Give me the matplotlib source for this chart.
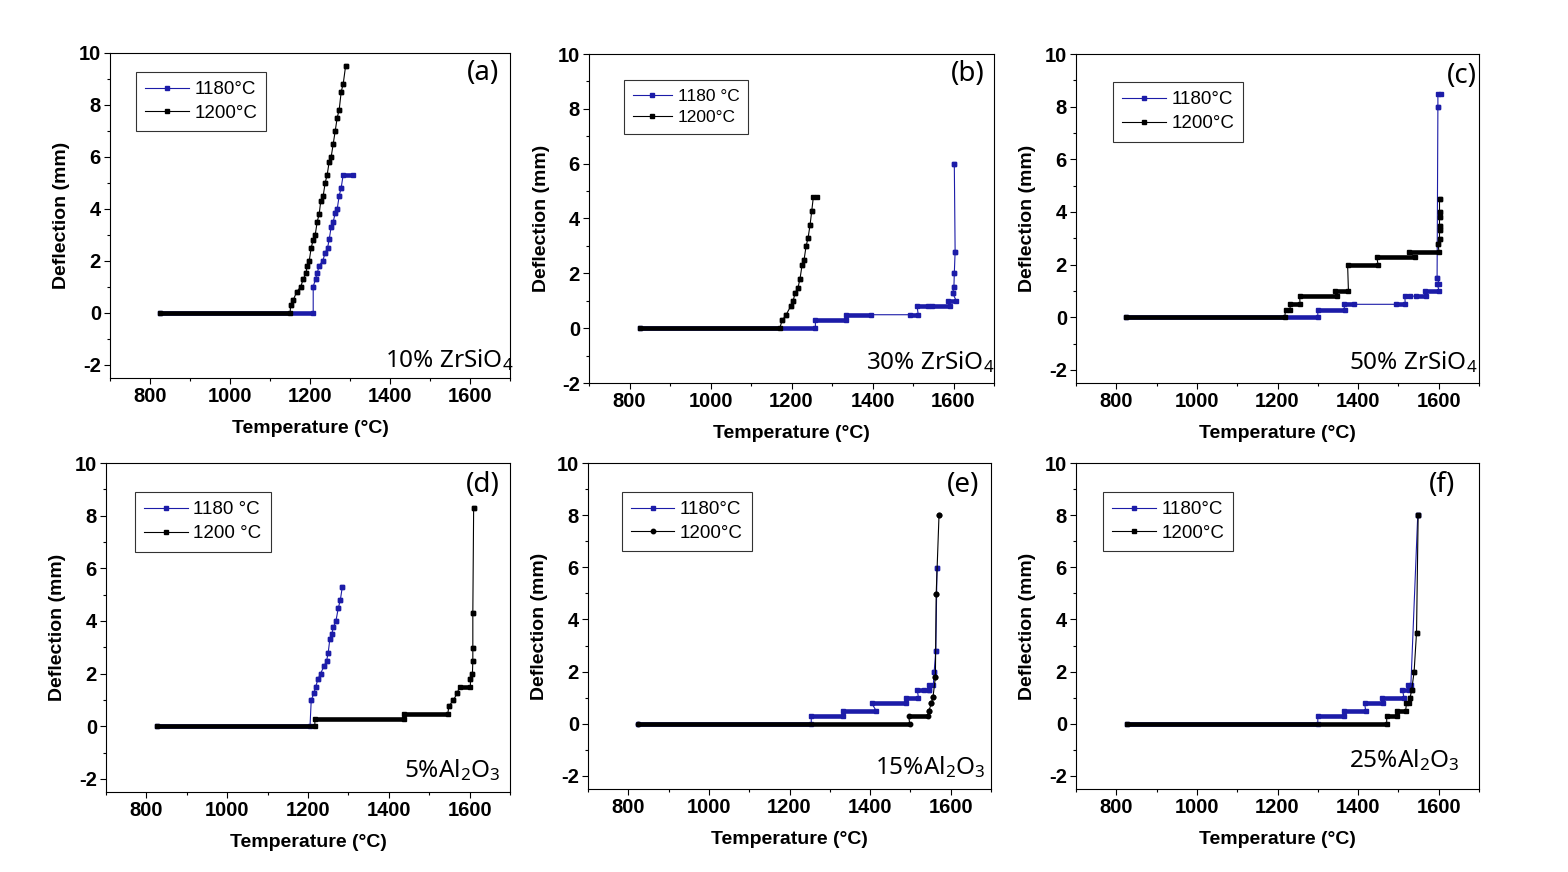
import matplotlib
matplotlib.use('Agg')
import matplotlib.pyplot as plt
from matplotlib.lines import Line2D
from matplotlib.ticker import MultipleLocator

plt.rcParams['font.family'] = ['Liberation Sans', 'DejaVu Sans']
plt.rcParams['mathtext.fontset'] = 'custom'
plt.rcParams['mathtext.rm'] = 'Noto Sans'
plt.rcParams['mathtext.default'] = 'regular'
plt.rcParams['axes.unicode_minus'] = False

# Each series is a list of runs: start temperature, end temperature, deflection.
# A run with start == end is a single data point.

# (a) 10% ZrSiO4
a_blue_t0 = [825, 1208, 1214, 1218, 1223, 1232, 1238, 1244, 1248, 1253, 1258, 1263, 1268, 1273, 1278, 1283]
a_blue_t1 = [1208, 1208, 1214, 1218, 1223, 1232, 1238, 1244, 1248, 1253, 1258, 1263, 1268, 1273, 1278, 1308]
a_blue_d = [0, 1.01, 1.32, 1.53, 1.82, 2.01, 2.32, 2.51, 2.83, 3.32, 3.51, 3.83, 4.0, 4.51, 4.82, 5.32]
a_black_t0 = [825, 1152, 1158, 1167, 1177, 1183, 1190, 1193, 1198, 1203, 1208, 1213, 1218, 1223,
              1227, 1233, 1238, 1243, 1248, 1253, 1258, 1263, 1268, 1273, 1278, 1283, 1289]
a_black_t1 = [1150, 1152, 1158, 1167, 1177, 1183, 1190, 1193, 1198, 1203, 1208, 1213, 1218, 1223,
              1227, 1233, 1238, 1243, 1248, 1253, 1258, 1263, 1268, 1273, 1278, 1283, 1289]
a_black_d = [0, 0.31, 0.5, 0.82, 1.01, 1.31, 1.53, 1.82, 2.0, 2.51, 2.81, 3.0, 3.51, 3.81,
             4.32, 4.51, 5.01, 5.32, 5.82, 6.01, 6.5, 7.0, 7.51, 7.82, 8.51, 8.81, 9.5]

# (b) 30% ZrSiO4
b_blue_t0 = [825, 1259, 1335, 1493, 1510, 1547, 1586, 1598, 1601, 1602, 1604, 1602]
b_blue_t1 = [1259, 1335, 1396, 1513, 1537, 1592, 1607, 1598, 1601, 1602, 1604, 1602]
b_blue_d = [0, 0.29, 0.49, 0.49, 0.8, 0.8, 0.99, 1.28, 1.49, 2.0, 2.79, 5.99]
b_black_t0 = [825, 1177, 1186, 1198, 1204, 1209, 1216, 1221, 1226, 1231, 1236, 1241, 1246, 1250, 1254]
b_black_t1 = [1171, 1177, 1186, 1198, 1204, 1209, 1216, 1221, 1226, 1231, 1236, 1241, 1246, 1250, 1263]
b_black_d = [0, 0.29, 0.47, 0.8, 0.99, 1.29, 1.48, 1.8, 2.29, 2.49, 2.99, 3.3, 3.78, 4.28, 4.79]

# (c) 50% ZrSiO4
c_blue_t0 = [824, 1300, 1364, 1493, 1516, 1544, 1565, 1596, 1596, 1598, 1598]
c_blue_t1 = [1300, 1367, 1390, 1517, 1530, 1569, 1601, 1601, 1596, 1598, 1605]
c_blue_d = [0, 0.29, 0.49, 0.49, 0.8, 0.8, 1.0, 1.28, 1.49, 8.0, 8.48]
c_black_t0 = [824, 1220, 1230, 1255, 1343, 1374, 1446, 1527, 1598, 1602, 1602, 1602, 1602, 1602, 1602]
c_black_t1 = [1218, 1232, 1256, 1347, 1376, 1450, 1540, 1601, 1598, 1602, 1602, 1602, 1602, 1602, 1602]
c_black_d = [0, 0.29, 0.49, 0.8, 1.0, 1.98, 2.29, 2.48, 2.8, 2.99, 3.31, 3.47, 3.79, 4.0, 4.49]

# (d) 5% Al2O3
d_blue_t0 = [826, 1208, 1215, 1219, 1225, 1231, 1240, 1246, 1250, 1254, 1259, 1263, 1269, 1275, 1280, 1285]
d_blue_t1 = [1205, 1208, 1215, 1219, 1225, 1231, 1240, 1246, 1250, 1254, 1259, 1263, 1269, 1275, 1280, 1285]
d_blue_d = [0, 0.99, 1.28, 1.5, 1.8, 2.0, 2.29, 2.48, 2.79, 3.3, 3.5, 3.78, 3.99, 4.49, 4.79, 5.3]
d_black_t0 = [826, 1217, 1437, 1549, 1560, 1570, 1575, 1602, 1607, 1608, 1608, 1608, 1610]
d_black_t1 = [1217, 1437, 1546, 1549, 1560, 1570, 1602, 1602, 1607, 1608, 1608, 1608, 1610]
d_black_d = [0, 0.29, 0.48, 0.77, 0.99, 1.28, 1.5, 1.8, 2.0, 2.48, 2.99, 4.3, 8.29]

# (e) 15% Al2O3
e_blue_t0 = [823, 1254, 1332, 1404, 1490, 1517, 1546, 1546, 1559, 1563, 1566]
e_blue_t1 = [1254, 1332, 1415, 1490, 1520, 1533, 1546, 1557, 1559, 1563, 1566]
e_blue_d = [0, 0.31, 0.5, 0.79, 1.0, 1.3, 1.3, 1.49, 2.0, 2.8, 5.99]
e_black_t0 = [823, 1496, 1546, 1552, 1556, 1562, 1564, 1571]
e_black_t1 = [1498, 1544, 1546, 1552, 1556, 1562, 1564, 1571]
e_black_d = [0, 0.31, 0.5, 0.79, 1.01, 1.79, 4.98, 8.0]

# (f) 25% Al2O3
f_blue_t0 = [827, 1300, 1366, 1416, 1460, 1510, 1525, 1548]
f_blue_t1 = [1300, 1366, 1419, 1463, 1514, 1526, 1531, 1548]
f_blue_d = [0, 0.31, 0.5, 0.79, 1.0, 1.3, 1.5, 8.0]
f_black_t0 = [827, 1471, 1496, 1520, 1529, 1533, 1539, 1545, 1549]
f_black_t1 = [1471, 1497, 1518, 1526, 1529, 1533, 1539, 1545, 1549]
f_black_d = [0, 0.31, 0.5, 0.79, 1.0, 1.3, 2.0, 3.5, 8.0]

panel_tags = ['(a)', '(b)', '(c)', '(d)', '(e)', '(f)']
compositions = ['10% ZrSiO$_4$', '30% ZrSiO$_4$', '50% ZrSiO$_4$',
                '5%Al$_2$O$_3$', '15%Al$_2$O$_3$', '25%Al$_2$O$_3$']
legend_labels = [('1180°C', '1200°C'), ('1180 °C', '1200°C'), ('1180°C', '1200°C'),
                 ('1180 °C', '1200 °C'), ('1180°C', '1200°C'), ('1180°C', '1200°C')]

BLUE = '#1c1ca8'
W, H = 1568, 872

# pixel boxes (left, top, width, height) of each panel
boxes = [(110, 53, 400, 325), (589, 54, 405, 329), (1076, 54, 403, 329),
         (106, 463, 404, 329), (588, 463, 403, 326), (1076, 463, 403, 326)]
ybottoms = [-2.5, -2, -2.5, -2.5, -2.5, -2.5]
tag_pos = [(0.933, 0.939), (0.936, 0.939), (0.958, 0.933),
           (0.933, 0.933), (0.930, 0.933), (0.908, 0.933)]
comp_pos = [(1.008, 0.055), (1.0, 0.064), (0.996, 0.064),
            (0.977, 0.067), (0.987, 0.067), (0.952, 0.089)]
leg_pos = [(0.065, 0.942), (0.086, 0.921), (0.092, 0.915),
           (0.072, 0.912), (0.084, 0.912), (0.067, 0.912)]
leg_size = [13.5, 12.5, 13.5, 13.5, 13.5, 13.5]
black_marker = ['s', 's', 's', 's', 'o', 's']

series = [
    (a_blue_t0, a_blue_t1, a_blue_d, a_black_t0, a_black_t1, a_black_d),
    (b_blue_t0, b_blue_t1, b_blue_d, b_black_t0, b_black_t1, b_black_d),
    (c_blue_t0, c_blue_t1, c_blue_d, c_black_t0, c_black_t1, c_black_d),
    (d_blue_t0, d_blue_t1, d_blue_d, d_black_t0, d_black_t1, d_black_d),
    (e_blue_t0, e_blue_t1, e_blue_d, e_black_t0, e_black_t1, e_black_d),
    (f_blue_t0, f_blue_t1, f_blue_d, f_black_t0, f_black_t1, f_black_d),
]


def draw_series(ax, t0, t1, d, color, marker, z):
    xs, ys = [], []
    for a, b, v in zip(t0, t1, d):
        xs += [a, b]
        ys += [v, v]
    # thin connecting line
    ax.plot(xs, ys, color=color, lw=0.8, zorder=z)
    # dense runs of points look like a thick bar
    for a, b, v in zip(t0, t1, d):
        if b > a:
            ax.plot([a, b], [v, v], color=color, lw=3.3, solid_capstyle='butt', zorder=z)
    ax.plot(xs, ys, ls='none', marker=marker, ms=3.2, color=color, mec=color, zorder=z)


fig = plt.figure(figsize=(W / 100, H / 100), dpi=100)

for i in range(6):
    l, t, w, h = boxes[i]
    ax = fig.add_axes([l / W, 1 - (t + h) / H, w / W, h / H])
    bt0, bt1, bd, kt0, kt1, kd = series[i]
    draw_series(ax, bt0, bt1, bd, BLUE, 's', 2)
    draw_series(ax, kt0, kt1, kd, 'black', black_marker[i], 3)

    ax.set_xlim(700, 1700)
    ax.set_ylim(ybottoms[i], 10)
    ax.set_xticks([800, 1000, 1200, 1400, 1600])
    ax.set_yticks([-2, 0, 2, 4, 6, 8, 10])
    ax.xaxis.set_minor_locator(MultipleLocator(100))
    ax.yaxis.set_minor_locator(MultipleLocator(1))
    ax.tick_params(which='both', direction='out', top=False, right=False, width=0.8)
    ax.tick_params(which='major', length=4, pad=2.5, labelsize=14.5)
    ax.tick_params(which='minor', length=2.5)
    for lab in ax.get_xticklabels() + ax.get_yticklabels():
        lab.set_fontweight('bold')
    for sp in ax.spines.values():
        sp.set_linewidth(0.8)

    ax.set_xlabel('Temperature (°C)', fontsize=14, fontweight='bold', va='center')
    ax.xaxis.set_label_coords(0.5, -50 / h)
    ax.set_ylabel('Deflection (mm)', fontsize=14, fontweight='bold', va='center')
    ax.yaxis.set_label_coords(-48 / w, 0.5)

    ax.text(tag_pos[i][0], tag_pos[i][1], panel_tags[i], transform=ax.transAxes,
            ha='center', va='center', fontsize=20, family='Noto Sans')
    ax.text(comp_pos[i][0], comp_pos[i][1], compositions[i], transform=ax.transAxes,
            ha='right', va='center', fontsize=17.5, family='Noto Sans')

    handles = [Line2D([], [], color=BLUE, lw=0.8, marker='s', ms=3.2),
               Line2D([], [], color='black', lw=0.8, marker=black_marker[i], ms=3.2)]
    leg = ax.legend(handles, legend_labels[i], loc='upper left', bbox_to_anchor=leg_pos[i],
                    borderaxespad=0, fontsize=leg_size[i], frameon=True, fancybox=False,
                    edgecolor='black', handlelength=2.3, handletextpad=0.3,
                    borderpad=0.5, labelspacing=0.35)
    leg.get_frame().set_linewidth(0.8)

fig.savefig('out.png', dpi=100, facecolor='white')
